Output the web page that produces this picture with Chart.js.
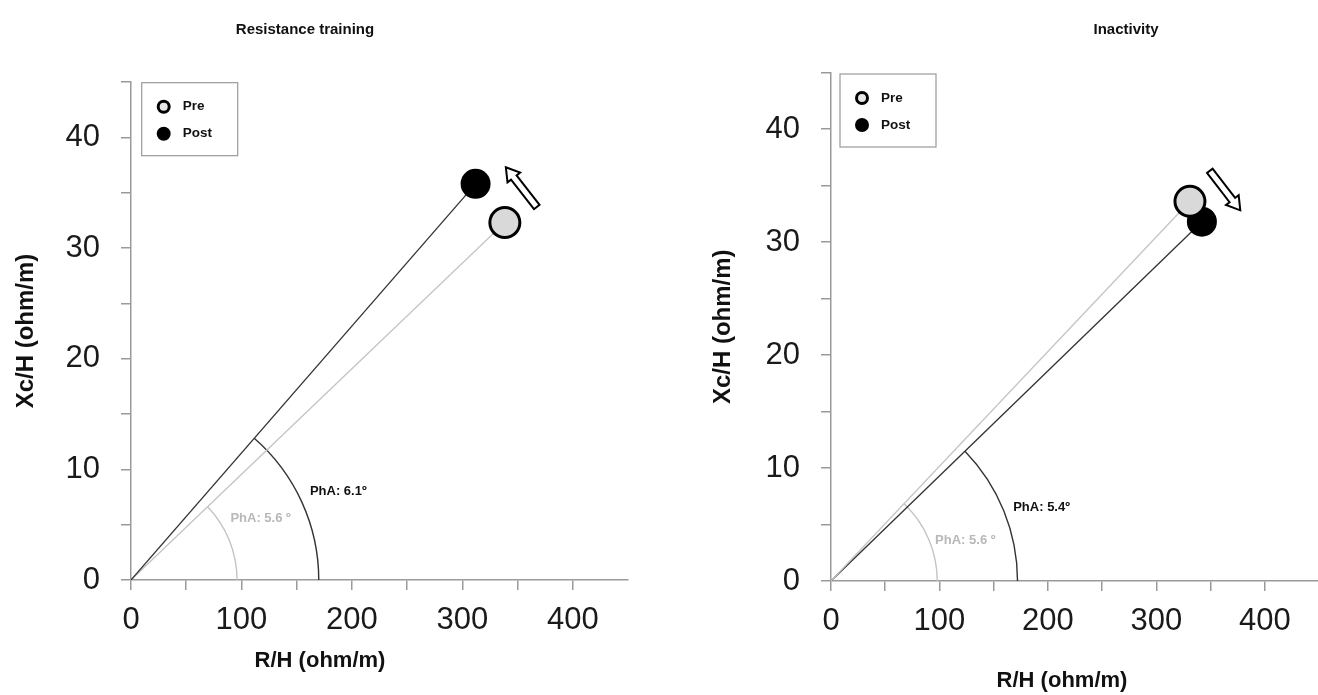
<!DOCTYPE html>
<html><head><meta charset="utf-8">
<script src="https://cdn.jsdelivr.net/npm/chart.js@4.4.1/dist/chart.umd.min.js"></script>
<style>
html,body{margin:0;padding:0;background:#fff;overflow:hidden;width:1318px;height:695px;position:relative}
#w1{position:absolute;left:0;top:0;width:659px;height:695px}
#w2{position:absolute;left:697px;top:0;width:640px;height:695px}
</style></head><body>
<div id="w1"><canvas id="c1" width="659" height="695"></canvas></div>
<div id="w2"><canvas id="c2" width="640" height="695"></canvas></div>
<script>
// ---- data ----
const panelTitles = ['Resistance training', 'Inactivity'];
const seriesNames = ['Pre', 'Post'];
const xAxisTitle = 'R/H (ohm/m)';
const yAxisTitle = 'Xc/H (ohm/m)';
const xTickLabels = [0, 100, 200, 300, 400];
const yTickLabels = [0, 10, 20, 30, 40];
// Resistance training: [Pre, Post]
const rtR = [338.5, 312];
const rtXc = [32.3, 35.8];
const rtPhA = ['5.6 º', '6.1º'];
const rtArcR = [96, 170];
// Inactivity: [Pre, Post]
const inR = [331, 342];
const inXc = [33.6, 31.8];
const inPhA = ['5.6 º', '5.4º'];
const inArcR = [98, 172];

const FONT = "'Liberation Sans', Arial, Helvetica, sans-serif";
const AXIS_COLOR = '#9a9a9a';
const SERIES_STYLE = [
  {line: '#c4c4c4', fill: '#d9d9d9', border: '#000', bw: 3, arc: '#c4c4c4', text: '#b8b8b8'},
  {line: '#333333', fill: '#000000', border: '#000', bw: 0, arc: '#333333', text: '#111111'}
];

const decor = {
  id: 'decor',
  beforeDatasetsDraw(chart, args, o) {
    const {ctx, scales: {x, y}} = chart;
    const x0 = x.getPixelForValue(0), y0 = y.getPixelForValue(0);
    o.R.forEach((r, i) => {
      const px = x.getPixelForValue(r), py = y.getPixelForValue(o.Xc[i]);
      const ang = Math.atan2(y0 - py, px - x0);
      const rad = x.getPixelForValue(o.arcR[i]) - x0;
      ctx.save();
      ctx.beginPath();
      ctx.strokeStyle = SERIES_STYLE[i].arc;
      ctx.lineWidth = 1.4;
      ctx.arc(x0, y0, rad, -ang, 0);
      ctx.stroke();
      ctx.restore();
    });
  },
  afterDraw(chart, args, o) {
    const {ctx, chartArea: ca, scales: {x, y}} = chart;
    ctx.save();
    // PhA labels
    ctx.font = 'bold 13px ' + FONT;
    ctx.textBaseline = 'middle';
    ctx.textAlign = 'left';
    o.phaPos.forEach((p, i) => {
      ctx.fillStyle = SERIES_STYLE[i].text;
      ctx.fillText('PhA: ' + o.pha[i], x.getPixelForValue(p[0]), y.getPixelForValue(p[1]));
    });
    // hollow arrow
    const tx = x.getPixelForValue(o.arrow[0][0]), ty = y.getPixelForValue(o.arrow[0][1]);
    const hx = x.getPixelForValue(o.arrow[1][0]), hy = y.getPixelForValue(o.arrow[1][1]);
    const L = Math.hypot(hx - tx, hy - ty), a = Math.atan2(hy - ty, hx - tx);
    const sw = 3.5, hw = 8, hl = 13;
    const pts = [[0, -sw], [L - hl, -sw], [L - hl, -hw], [L, 0], [L - hl, hw], [L - hl, sw], [0, sw]];
    ctx.beginPath();
    pts.forEach((p, k) => {
      const X = tx + p[0] * Math.cos(a) - p[1] * Math.sin(a);
      const Y = ty + p[0] * Math.sin(a) + p[1] * Math.cos(a);
      k ? ctx.lineTo(X, Y) : ctx.moveTo(X, Y);
    });
    ctx.closePath();
    ctx.fillStyle = '#fff'; ctx.fill();
    ctx.strokeStyle = '#000'; ctx.lineWidth = 2; ctx.lineJoin = 'miter'; ctx.stroke();
    // legend box
    const lx = ca.left + o.legend[0], ly = ca.top + o.legend[1];
    ctx.strokeStyle = '#9a9a9a'; ctx.lineWidth = 1.2;
    ctx.strokeRect(lx, ly, 96, 73);
    seriesNames.forEach((n, i) => {
      const my = ly + 24 + i * 27;
      ctx.beginPath();
      if (i === 0) {
        ctx.arc(lx + 22, my, 5.5, 0, Math.PI * 2);
        ctx.fillStyle = '#e6e6e6'; ctx.fill();
        ctx.lineWidth = 3; ctx.strokeStyle = '#000'; ctx.stroke();
      } else {
        ctx.arc(lx + 22, my, 7, 0, Math.PI * 2);
        ctx.fillStyle = '#000'; ctx.fill();
      }
      ctx.fillStyle = '#111';
      ctx.font = 'bold 13.5px ' + FONT;
      ctx.textAlign = 'left';
      ctx.fillText(n, lx + 41, my);
    });
    // panel title
    ctx.fillStyle = '#111';
    ctx.font = 'bold 15px ' + FONT;
    ctx.textAlign = 'center';
    ctx.fillText(o.title, ca.left + o.titleX, 30);
    // x axis title
    ctx.font = 'bold 22px ' + FONT;
    ctx.fillText(xAxisTitle, ca.left + o.xTitleX, ca.bottom + o.xTitleY);
    ctx.restore();
  }
};

function makeChart(id, R, Xc, pha, arcR, o) {
  const datasets = seriesNames.map((n, i) => ({
    label: n,
    data: [{x: 0, y: 0}, {x: R[i], y: Xc[i]}],
    showLine: true,
    borderColor: SERIES_STYLE[i].line,
    borderWidth: 1.3,
    pointRadius: [0, 15],
    pointBackgroundColor: SERIES_STYLE[i].fill,
    pointBorderColor: SERIES_STYLE[i].border,
    pointBorderWidth: [0, SERIES_STYLE[i].bw],
    order: o.order[i]
  }));
  return new Chart(document.getElementById(id), {
    type: 'scatter',
    data: {datasets},
    options: {
      responsive: false,
      animation: false,
      layout: {padding: {left: 0, right: o.padRight, top: o.top, bottom: 0}},
      plugins: {
        legend: {display: false},
        tooltip: {enabled: false},
        decor: {R, Xc, pha, arcR, phaPos: o.phaPos, arrow: o.arrow, legend: o.legend,
                title: o.title, titleX: o.titleX, xTitleX: o.xTitleX, xTitleY: o.xTitleY}
      },
      scales: {
        x: {
          type: 'linear', min: 0, max: 450,
          afterBuildTicks: s => { s.ticks = s.ticks.filter(t => t.value < 450); },
          afterFit: s => { s.height = o.xH; },
          ticks: {stepSize: 50, autoSkip: false, maxRotation: 0, padding: 12,
                  color: '#1a1a1a', font: {family: FONT, size: 31},
                  callback: v => xTickLabels.includes(v) ? String(v) : ''},
          grid: {drawOnChartArea: false, drawTicks: true, tickLength: 10, color: AXIS_COLOR, lineWidth: 1.5},
          border: {color: AXIS_COLOR, width: 1.5}
        },
        y: {
          type: 'linear', min: 0, max: 45,
          afterFit: s => { s.width = o.yW; },
          ticks: {stepSize: 5, autoSkip: false, padding: 21,
                  color: '#1a1a1a', font: {family: FONT, size: 31},
                  callback: v => yTickLabels.includes(v) ? String(v) : ''},
          grid: {drawOnChartArea: false, drawTicks: true, tickLength: 10, color: AXIS_COLOR, lineWidth: 1.5},
          border: {color: AXIS_COLOR, width: 1.5},
          title: {display: true, text: yAxisTitle, color: '#111',
                  font: {family: FONT, size: 24, weight: 'bold'}, padding: {top: 12, bottom: 0}}
        }
      }
    },
    plugins: [decor]
  });
}

makeChart('c1', rtR, rtXc, rtPhA, rtArcR, {
  order: [1, 0], padRight: 31, top: 82, xH: 115, yW: 131,
  phaPos: [[90, 5.6], [162, 8.0]],
  arrow: [[367.4, 33.7], [339.4, 37.3]],
  legend: [10.7, 0.7], title: panelTitles[0], titleX: 174, xTitleX: 189, xTitleY: 81
});
makeChart('c2', inR, inXc, inPhA, inArcR, {
  order: [0, 1], padRight: 9, top: 72.5, xH: 114, yW: 134,
  phaPos: [[96, 3.6], [168, 6.5]],
  arrow: [[349.3, 36.3], [377.4, 32.8]],
  legend: [9, 1.5], title: panelTitles[1], titleX: 295, xTitleX: 231, xTitleY: 100
});
</script>
</body></html>
